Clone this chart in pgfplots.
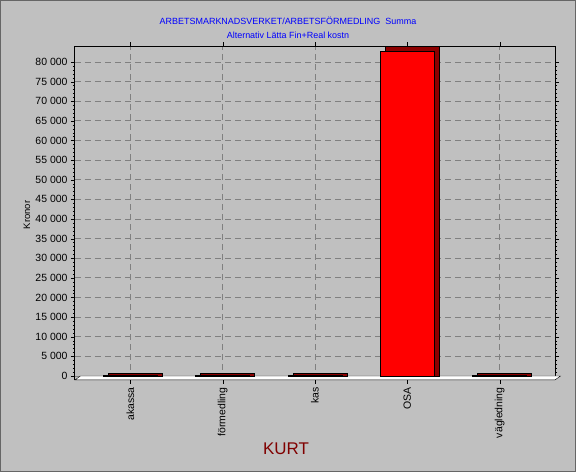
\documentclass[border=0pt]{standalone}
\usepackage{fontspec}
\setmainfont{Liberation Sans}
\usepackage{pgfplots}
\pgfplotsset{compat=1.18}
\usetikzlibrary{backgrounds}
\definecolor{bg}{RGB}{192,192,192}
\definecolor{barred}{RGB}{255,0,0}
\definecolor{dred}{RGB}{128,0,0}
\definecolor{sidered}{RGB}{140,0,0}
\definecolor{ttl}{RGB}{0,0,255}
\definecolor{gridc}{RGB}{128,128,128}
\begin{document}
\begin{tikzpicture}[x=1bp,y=1bp]
\begin{axis}[
  scale only axis, width=480bp, height=333.6bp,
  xmin=-0.6, xmax=4.6, ymin=-1000, ymax=84000,
  clip=false,
  axis background/.style={fill=bg},
  axis line style={black, line width=1bp},
  xtick={0,1,2,3,4},
  xticklabels={akassa,förmedling,kas,OSA,vägledning},
  xticklabel style={rotate=90, anchor=east, font=\fontsize{10.5}{12}\selectfont},
  ytick={0,5000,...,80000},
  scaled y ticks=false,
  minor y tick num=4,
  yticklabel style={font=\fontsize{10.5}{12}\selectfont},
  /pgf/number format/.cd, 1000 sep={\ }, assume math mode=true,
  /pgfplots/.cd,
  tick align=outside,
  major tick length=4bp, minor tick length=2bp,
  tick style={black},
  xmajorgrids, ymajorgrids,
  major grid style={gridc, dash pattern=on 6bp off 4bp, line width=0.8bp},
  ybar, bar width=54bp,
]
\fill[white, draw=black] (axis cs:-0.6,-1000) -- (axis cs:-0.54,0) -- (axis cs:4.66,0) -- (axis cs:4.6,-1000) -- cycle;
\addplot[fill=sidered, draw=black, bar shift=5bp] coordinates {(0,700) (1,700) (2,700) (3,84070) (4,700)};
\addplot[fill=barred, draw=black, bar shift=0bp] coordinates {(0,100) (1,100) (2,100) (3,82800) (4,100)};
\coordinate (O) at (rel axis cs:0,0);
\end{axis}
\begin{scope}[shift={(O)}, shift={(-75,-92.1)}]
\begin{scope}[on background layer]
\fill[bg] (0,0) rectangle (576,472);
\draw[black!60, line width=1bp] (0.5,0.5) rectangle (575.5,471.5);
\end{scope}
\node[font=\fontsize{9}{11}\selectfont, text=ttl] at (288,451) {ARBETSMARKNADSVERKET/ARBETSFÖRMEDLING\ \ Summa};
\node[font=\fontsize{9}{11}\selectfont, text=ttl] at (288,437) {Alternativ Lätta Fin+Real kostn};
\node[font=\fontsize{9.5}{11}\selectfont, rotate=90] at (27,257) {Kronor};
\node[font=\fontsize{17}{19}\selectfont, text=dred] at (286,23) {KURT};
\end{scope}
\end{tikzpicture}
\end{document}
